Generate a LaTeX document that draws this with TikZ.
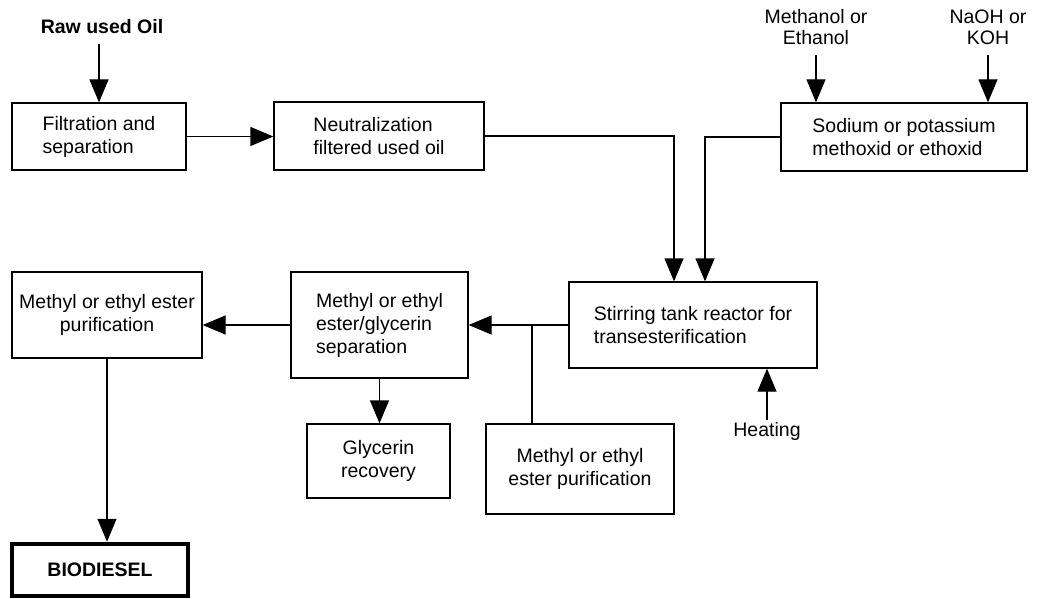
\documentclass[tikz,border=0pt]{standalone}
\usepackage{fontspec}
\setmainfont{Liberation Sans}
\usetikzlibrary{arrows.meta}
\begin{document}
\begin{tikzpicture}[x=1pt,y=-1pt,
  every node/.style={font=\fontsize{19.5}{23}\selectfont},
  box/.style={draw,line width=1.3pt,rectangle,inner sep=0pt},
  lbl/.style={inner sep=0pt,align=center},
  arr/.style={line width=1.3pt,-{Triangle[length=23pt,width=19pt]}},
  ln/.style={line width=1.3pt}]
\useasboundingbox (0,0) rectangle (1037,599);
% boxes
\node[box,minimum width=174pt,minimum height=67pt,align=left] (filt) at (99,136.5) {Filtration and\\separation};
\node[box,minimum width=210pt,minimum height=68pt,align=left] (neut) at (379,136) {Neutralization\\filtered used oil};
\node[box,minimum width=246pt,minimum height=68pt,align=left] (sod) at (904,137) {Sodium or potassium\\methoxid or ethoxid};
\node[box,minimum width=248pt,minimum height=86pt,align=left] (react) at (693,325) {Stirring tank reactor for\\transesterification};
\node[box,minimum width=177pt,minimum height=106pt,align=left] (sep) at (379.5,325) {Methyl or ethyl\\ester/glycerin\\separation};
\node[box,minimum width=190pt,minimum height=86pt,align=center] (pur1) at (107,315) {Methyl or ethyl ester\\purification};
\node[box,minimum width=143pt,minimum height=74pt,align=center] (gly) at (378.5,461) {Glycerin\\recovery};
\node[box,minimum width=188pt,minimum height=90pt,align=center] (pur2) at (580,469) {Methyl or ethyl\\ester purification};
\node[draw,line width=4.5pt,rectangle,inner sep=0pt,minimum width=176pt,minimum height=52pt,font=\fontsize{19.5}{23}\selectfont\bfseries] (bio) at (100,570) {BIODIESEL};
% free labels
\node[lbl,font=\fontsize{19.5}{23}\selectfont\bfseries] (raw) at (102,27) {Raw used Oil};
\node[lbl,font=\fontsize{19.5}{21}\selectfont] (meth) at (816,27) {Methanol or\\Ethanol};
\node[lbl,font=\fontsize{19.5}{21}\selectfont] (naoh) at (988,27) {NaOH or\\KOH};
\node[lbl] (heat) at (767,431) {Heating};
% connectors
\draw[arr] ([yshift=-10pt]raw.south -| filt.north) -- (filt.north);
\draw[arr] (filt.east) -- (filt.east -| neut.west);
\draw[arr] (neut.east) -| ([xshift=-19pt]react.north);
\draw[arr] (sod.west) -| ([xshift=12pt]react.north);
\draw[arr] ([yshift=-10pt]meth.south) -- (meth.south |- sod.north);
\draw[arr] ([yshift=-10pt]naoh.south) -- (naoh.south |- sod.north);
\draw[arr] (react.west) -- (react.west -| sep.east);
\draw[ln] ([xshift=-48pt]pur2.north) -- ([xshift=-48pt]pur2.north |- react.west);
\draw[arr] (sep.west) -- (sep.west -| pur1.east);
\draw[arr] (sep.south) -- (sep.south |- gly.north);
\draw[arr] (pur1.south) -- (pur1.south |- bio.north);
\draw[arr] ([yshift=2pt]heat.north) -- (heat.north |- react.south);
\end{tikzpicture}
\end{document}
